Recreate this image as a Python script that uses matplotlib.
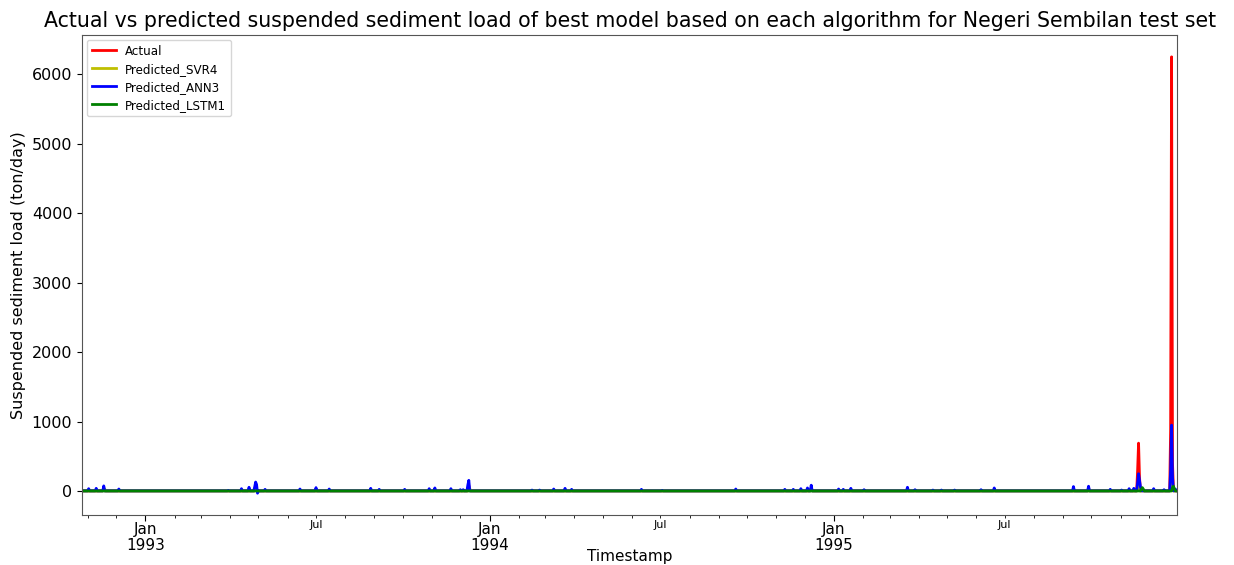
import numpy as np
import pandas as pd
import matplotlib
matplotlib.use("Agg")
import matplotlib.pyplot as plt
import matplotlib.dates as mdates
from matplotlib.ticker import FuncFormatter

# Test period (daily)
start_date = "1992-10-26"
end_date = "1995-12-31"

# Near-zero background level of each series (ton/day)
actual_base = 4.0
svr_base = 4.0
ann_base = 4.0
lstm_base = 2.0

# Event days and loads (ton/day)
actual_dates = ["1992-11-18", "1993-04-28", "1993-12-10", "1994-12-08",
                "1995-09-28", "1995-11-19", "1995-11-20", "1995-11-21",
                "1995-12-24", "1995-12-25", "1995-12-26"]
actual_vals = [30, 60, 80, 40, 40, 300, 690, 200, 900, 6250, 400]

svr_dates = ["1992-11-18", "1992-11-19", "1993-04-28", "1993-12-10",
             "1993-12-11", "1994-12-08", "1995-11-20", "1995-12-25"]
svr_vals = [45, 30, 40, 60, 35, 30, 80, 150]

ann_dates = ["1992-11-02", "1992-11-10", "1992-11-18", "1992-12-04",
             "1993-03-30", "1993-04-13", "1993-04-21", "1993-04-27",
             "1993-04-28", "1993-04-29", "1993-04-30", "1993-05-08",
             "1993-06-14", "1993-07-01", "1993-07-15", "1993-08-28",
             "1993-09-06", "1993-10-03", "1993-10-29", "1993-11-04",
             "1993-11-21", "1993-12-01", "1993-12-04", "1993-12-09",
             "1993-12-10", "1994-02-15", "1994-02-23", "1994-03-10",
             "1994-03-22", "1994-03-29", "1994-06-11", "1994-07-03",
             "1994-09-19", "1994-11-10", "1994-11-19", "1994-11-27",
             "1994-12-04", "1994-12-08", "1995-01-06", "1995-01-11",
             "1995-01-19", "1995-02-02", "1995-03-20", "1995-03-28",
             "1995-04-16", "1995-04-25", "1995-05-09", "1995-06-06",
             "1995-06-20", "1995-09-12", "1995-09-28", "1995-10-21",
             "1995-11-02", "1995-11-10", "1995-11-15", "1995-11-19",
             "1995-11-20", "1995-11-21", "1995-11-22", "1995-12-06",
             "1995-12-17", "1995-12-24", "1995-12-25", "1995-12-26",
             "1995-12-29"]
ann_vals = [35, 40, 75, 30,
            10, 35, 55, 60,
            130, 95, -30, 25,
            30, 50, 30, 40,
            25, 25, 35, 45,
            35, 20, 20, 90,
            155, 15, 15, 30,
            40, 25, 25, 10,
            30, 25, 25, 35,
            45, 85, 30, 25,
            40, 20, 55, 20,
            15, 15, 15, 20,
            45, 65, 70, 25,
            15, 35, 40, 120,
            250, 150, 60, 35,
            20, 300, 950, 200,
            30]

lstm_dates = ["1995-11-23", "1995-11-24", "1995-11-25", "1995-12-26",
              "1995-12-27", "1995-12-28"]
lstm_vals = [25, 50, 30, 50, 70, 30]

index = pd.date_range(start_date, end_date, freq="D")


def build(base, dates, vals):
    s = pd.Series(base, index=index, dtype=float)
    s.loc[pd.to_datetime(dates)] = vals
    return s


df = pd.DataFrame({
    "Actual": build(actual_base, actual_dates, actual_vals),
    "Predicted_SVR4": build(svr_base, svr_dates, svr_vals),
    "Predicted_ANN3": build(ann_base, ann_dates, ann_vals),
    "Predicted_LSTM1": build(lstm_base, lstm_dates, lstm_vals),
})
colors = {"Actual": "r", "Predicted_SVR4": "y",
          "Predicted_ANN3": "b", "Predicted_LSTM1": "g"}

fig = plt.figure(figsize=(12.34, 5.65), dpi=100)
ax = fig.add_axes([0.0665, 0.0885, 0.8875, 0.8495])

for name in df.columns:
    ax.plot(df.index, df[name], color=colors[name], linewidth=2, label=name)

ax.set_xlim(df.index[0], df.index[-1])
ax.margins(y=0.05)

ax.xaxis.set_major_locator(mdates.MonthLocator(bymonth=1))
ax.xaxis.set_major_formatter(mdates.DateFormatter("%b\n%Y"))
ax.xaxis.set_minor_locator(mdates.MonthLocator())
ax.xaxis.set_minor_formatter(FuncFormatter(
    lambda v, pos: "Jul" if mdates.num2date(v).month == 7 else ""))
ax.tick_params(axis="x", which="major", labelsize=11, length=4, pad=1)
ax.tick_params(axis="x", which="minor", labelsize=8, length=2, pad=1.5)
ax.tick_params(axis="y", labelsize=11.5)
ax.set_yticks(np.arange(0, 7000, 1000))
for lab in ax.get_xticklabels():
    lab.set_linespacing(1.1)

for sp in ax.spines.values():
    sp.set_color("#555555")

ax.set_title("Actual vs predicted suspended sediment load of best model based on each algorithm for Negeri Sembilan test set",
             fontsize=14.8, pad=6)
ax.set_xlabel("Timestamp", fontsize=11)
ax.xaxis.set_label_coords(0.5, -0.07)
ax.set_ylabel("Suspended sediment load (ton/day)", fontsize=11.5)
ax.legend(loc="upper left", fontsize=8.6, labelspacing=0.42,
          borderaxespad=0.4)

fig.savefig("out.png", dpi=100)
